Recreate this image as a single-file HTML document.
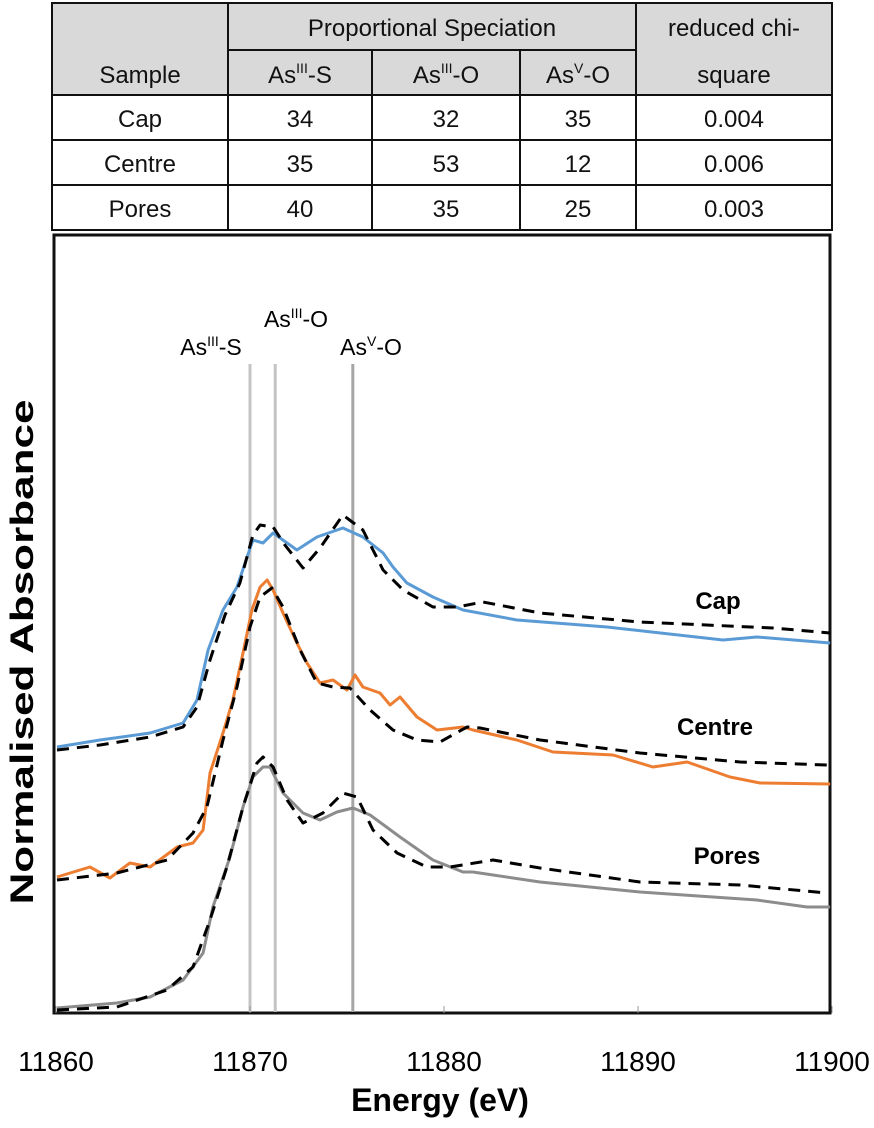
<!DOCTYPE html>
<html><head><meta charset="utf-8"><style>
html,body{margin:0;padding:0;background:#fff;}
svg{display:block;font-family:"Liberation Sans",sans-serif;}
</style></head><body>
<svg id="fig" width="874" height="1128" viewBox="0 0 874 1128">
<g id="table">
  <rect x="52" y="3" width="780" height="92" fill="#d9d9d9"/>
  <rect x="52" y="95" width="780" height="135" fill="#fff"/>
  <g stroke="#111" stroke-width="2" fill="none">
    <rect x="52" y="3" width="780" height="227"/>
    <line x1="228" y1="50" x2="636" y2="50"/>
    <line x1="52" y1="95" x2="832" y2="95"/>
    <line x1="52" y1="140" x2="832" y2="140"/>
    <line x1="52" y1="185" x2="832" y2="185"/>
    <line x1="228" y1="3" x2="228" y2="230"/>
    <line x1="636" y1="3" x2="636" y2="230"/>
    <line x1="372" y1="50" x2="372" y2="230"/>
    <line x1="520" y1="50" x2="520" y2="230"/>
  </g>
  <g font-size="24" fill="#111" text-anchor="middle">
    <text x="432" y="36">Proportional Speciation</text>
    <text x="734" y="36">reduced chi-</text>
    <text x="734" y="83">square</text>
    <text x="140" y="83">Sample</text>
    <text x="300" y="83">As<tspan font-size="14" dy="-10">III</tspan><tspan dy="10">-S</tspan></text>
    <text x="446" y="83">As<tspan font-size="14" dy="-10">III</tspan><tspan dy="10">-O</tspan></text>
    <text x="578" y="83">As<tspan font-size="14" dy="-10">V</tspan><tspan dy="10">-O</tspan></text>
    <g><text x="140" y="127">Cap</text><text x="300" y="127">34</text><text x="446" y="127">32</text><text x="578" y="127">35</text><text x="734" y="127">0.004</text></g>
    <g><text x="140" y="172">Centre</text><text x="300" y="172">35</text><text x="446" y="172">53</text><text x="578" y="172">12</text><text x="734" y="172">0.006</text></g>
    <g><text x="140" y="217">Pores</text><text x="300" y="217">40</text><text x="446" y="217">35</text><text x="578" y="217">25</text><text x="734" y="217">0.003</text></g>
  </g>
</g>
<rect x="54" y="235" width="776" height="778" fill="none" stroke="#111" stroke-width="3"/>
<g id="plot"></g>
<text transform="translate(33,652) rotate(-90)" text-anchor="middle" font-size="32" font-weight="bold" textLength="505" lengthAdjust="spacingAndGlyphs">Normalised Absorbance</text>
<text x="440" y="1111" text-anchor="middle" font-size="32" font-weight="bold">Energy (eV)</text>
</svg>
<script>
const xTicks = [11860, 11870, 11880, 11890, 11900];
const refEnergies = [11870.0, 11871.3, 11875.3];
const capE = [0.05,2.27,4.85,6.55,7.27,7.84,8.61,9.33,10.15,10.67,11.19,12.42,13.45,14.79,15.82,16.86,17.37,18.09,19.43,20.98,23.76,28.4,34.38,36.13,39.9];
const capV = [2.66,2.73,2.80,2.90,3.13,3.63,4.03,4.26,4.73,4.70,4.80,4.63,4.76,4.85,4.76,4.60,4.46,4.30,4.16,4.03,3.93,3.86,3.73,3.76,3.70];
const capFitE = [0.05,2.27,4.85,6.55,7.27,7.94,8.71,9.48,10.15,10.52,11.19,11.8,12.73,13.61,14.79,15.82,16.86,17.89,19.43,20.67,22.01,24.95,30.1,36.96,39.9];
const capFitV = [2.63,2.68,2.76,2.86,3.06,3.53,3.98,4.30,4.78,4.88,4.86,4.68,4.45,4.65,4.98,4.83,4.43,4.23,4.06,4.06,4.11,4.00,3.91,3.85,3.80];
const centreE = [0.05,1.75,2.78,3.81,4.85,6.24,7.06,7.58,7.94,8.61,9.12,9.64,10.1,10.52,10.88,11.19,11.7,12.42,12.94,13.61,14.28,15.0,15.41,15.82,16.7,17.22,17.73,18.61,19.64,20.98,21.49,23.76,25.62,28.71,30.77,32.53,34.74,36.29,39.9];
const centreV = [1.36,1.46,1.35,1.50,1.46,1.66,1.70,1.83,2.40,2.80,3.13,3.60,4.03,4.26,4.33,4.23,4.00,3.70,3.50,3.30,3.33,3.23,3.38,3.26,3.20,3.08,3.16,2.96,2.83,2.86,2.83,2.73,2.61,2.58,2.46,2.51,2.36,2.30,2.29];
const centreFitE = [0.05,3.14,5.72,7.06,7.78,8.61,9.33,10.0,10.52,11.13,11.7,12.58,13.45,14.28,15.15,16.19,17.37,18.61,19.79,21.19,21.86,24.95,30.1,35.26,39.74];
const centreFitV = [1.33,1.40,1.53,1.80,2.06,2.73,3.26,3.86,4.16,4.25,4.06,3.63,3.30,3.26,3.25,3.03,2.83,2.73,2.71,2.86,2.85,2.73,2.60,2.51,2.48];
const poresE = [0.05,3.14,4.85,6.55,7.58,8.09,8.97,9.64,10.15,10.67,11.03,11.7,12.73,13.61,14.48,15.31,16.19,17.73,19.43,20.98,21.49,24.95,30.1,36.13,38.71,39.9];
const poresV = [0.05,0.10,0.16,0.33,0.60,1.06,1.56,2.06,2.36,2.46,2.46,2.20,2.00,1.93,2.01,2.05,1.98,1.76,1.53,1.41,1.41,1.31,1.21,1.13,1.06,1.06];
const poresFitE = [0.05,3.14,5.72,7.06,7.94,8.81,9.64,10.36,10.67,11.19,11.91,12.73,13.76,14.79,15.52,16.34,17.58,19.12,20.31,22.53,24.95,30.1,35.26,39.74];
const poresFitV = [0.03,0.06,0.23,0.46,0.93,1.46,2.06,2.50,2.56,2.46,2.13,1.90,2.00,2.20,2.16,1.83,1.60,1.46,1.46,1.53,1.45,1.31,1.28,1.20];

const NS = 'http://www.w3.org/2000/svg';
const plot = document.getElementById('plot');
const fig = document.getElementById('fig');
function xS(e){ return 56 + (e - 11860) * 19.4; }
function xOff(d){ return xS(11860 + d); }
function yS(v){ return 1013 - v * 100; }

refEnergies.forEach(function(e, i){
  const l = document.createElementNS(NS, 'line');
  l.setAttribute('x1', xS(e)); l.setAttribute('x2', xS(e));
  l.setAttribute('y1', 364); l.setAttribute('y2', 1012);
  l.setAttribute('stroke', i === 2 ? '#a6a6a6' : '#c4c4c4');
  l.setAttribute('stroke-width', 3);
  
  
  plot.appendChild(l);
});
xTicks.forEach(function(t){
  const tk = document.createElementNS(NS, 'line');
  tk.setAttribute('x1', xS(t)); tk.setAttribute('x2', xS(t));
  tk.setAttribute('y1', 1006); tk.setAttribute('y2', 1013);
  tk.setAttribute('stroke', '#999'); tk.setAttribute('stroke-width', 1);
  
  
  plot.appendChild(tk);
  const tx = document.createElementNS(NS, 'text');
  tx.setAttribute('x', xS(t)); tx.setAttribute('y', 1071);
  tx.setAttribute('text-anchor', 'middle'); tx.setAttribute('font-size', '28');
  tx.textContent = t;
  
  
  fig.appendChild(tx);
});
function path(es, vs, color, dashed, name){
  const p = document.createElementNS(NS, 'path');
  let d = '';
  es.forEach(function(e, i){ d += (i ? 'L' : 'M') + xOff(e).toFixed(1) + ',' + yS(vs[i]).toFixed(1); });
  p.setAttribute('d', d);
  p.setAttribute('fill', 'none');
  p.setAttribute('stroke', color);
  p.setAttribute('stroke-width', 3);
  p.setAttribute('stroke-linejoin', 'round');
  if (dashed) p.setAttribute('stroke-dasharray', '12,8');
  
  
  plot.appendChild(p);
}
path(capE, capV, '#5b9bd5', false, 'cap-line');
path(capFitE, capFitV, '#000', true, 'cap-fit-line');
path(centreE, centreV, '#ed7d31', false, 'centre-line');
path(centreFitE, centreFitV, '#000', true, 'centre-fit-line');
path(poresE, poresV, '#8c8c8c', false, 'pores-line');
path(poresFitE, poresFitV, '#000', true, 'pores-fit-line');

const labels = [['Cap', 718, 609, 'cap-label'], ['Centre', 715, 735, 'centre-label'], ['Pores', 727, 864, 'pores-label']];
labels.forEach(function(l){
  const t = document.createElementNS(NS, 'text');
  t.setAttribute('x', l[1]); t.setAttribute('y', l[2]);
  t.setAttribute('text-anchor', 'middle'); t.setAttribute('font-size', '24'); t.setAttribute('font-weight', 'bold');
  t.textContent = l[0];
  
  
  plot.appendChild(t);
});
const refLabels = [['III', '-S', 211, 355, 'as3-s-label'], ['III', '-O', 296, 327, 'as3-o-label'], ['V', '-O', 371, 355, 'as5-o-label']];
refLabels.forEach(function(r){
  const t = document.createElementNS(NS, 'text');
  t.setAttribute('x', r[2]); t.setAttribute('y', r[3]);
  t.setAttribute('text-anchor', 'middle'); t.setAttribute('font-size', '23');
  t.innerHTML = 'As<tspan font-size="14" dy="-9">' + r[0] + '</tspan><tspan dy="9">' + r[1] + '</tspan>';
  
  
  plot.appendChild(t);
});
</script>
</body></html>
